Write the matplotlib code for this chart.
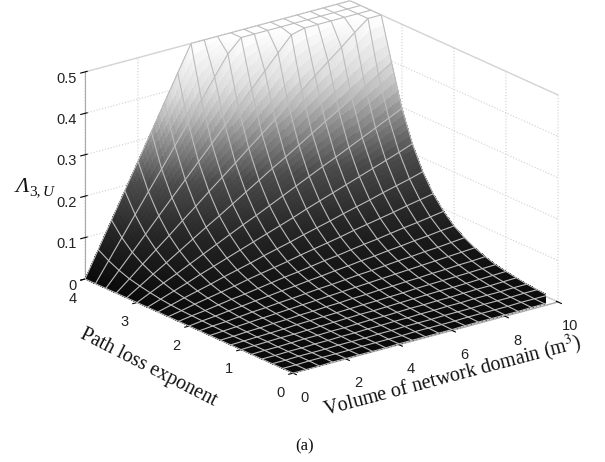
import numpy as np
import matplotlib
matplotlib.use('Agg')
import matplotlib.pyplot as plt
from matplotlib.colors import LinearSegmentedColormap
from mpl_toolkits.mplot3d import proj3d

volume = [0, .5, 1, 1.5, 2, 2.5, 3, 3.5, 4, 4.5, 5, 5.5, 6, 6.5, 7, 7.5, 8, 8.5, 9, 9.5, 10]
exponent = [0, .2, .4, .6, .8, 1, 1.2, 1.4, 1.6, 1.8, 2, 2.2, 2.4, 2.6, 2.8, 3, 3.2, 3.4, 3.6, 3.8, 4]
# rows run from exponent 0 to exponent 4, columns along volume
lambda_u = [
 [0,0,0,.001,.001,.001,.001,.001,.002,.002,.002,.002,.002,.003,.003,.003,.003,.003,.004,.004,.004],
 [0,0,.001,.001,.001,.001,.002,.002,.002,.002,.003,.003,.003,.003,.004,.004,.004,.004,.005,.005,.005],
 [0,0,.001,.001,.001,.002,.002,.002,.003,.003,.004,.004,.004,.005,.005,.005,.006,.006,.006,.007,.007],
 [0,0,.001,.001,.002,.002,.003,.003,.004,.004,.005,.005,.006,.006,.007,.007,.008,.008,.008,.009,.009],
 [0,.001,.001,.002,.003,.003,.004,.004,.005,.006,.006,.007,.008,.008,.009,.009,.010,.011,.011,.012,.013],
 [0,.001,.002,.003,.003,.004,.005,.006,.007,.008,.008,.009,.010,.011,.012,.013,.013,.014,.015,.016,.017],
 [0,.001,.002,.003,.004,.006,.007,.008,.009,.010,.011,.012,.013,.014,.016,.017,.018,.019,.020,.021,.022],
 [0,.001,.003,.004,.006,.007,.009,.010,.012,.013,.015,.016,.018,.019,.021,.022,.024,.025,.027,.028,.030],
 [0,.002,.004,.006,.008,.010,.012,.014,.016,.018,.020,.022,.024,.026,.028,.030,.032,.034,.036,.038,.040],
 [0,.003,.005,.008,.011,.013,.016,.018,.021,.024,.026,.029,.032,.034,.037,.040,.042,.045,.047,.050,.053],
 [0,.004,.007,.011,.014,.018,.021,.025,.028,.032,.035,.039,.042,.046,.049,.053,.056,.060,.063,.067,.070],
 [0,.005,.009,.014,.019,.023,.028,.033,.038,.042,.047,.052,.056,.061,.066,.070,.075,.080,.084,.089,.094],
 [0,.006,.013,.019,.025,.031,.038,.044,.050,.056,.063,.069,.075,.081,.088,.094,.100,.106,.113,.119,.125],
 [0,.008,.017,.025,.033,.042,.050,.058,.067,.075,.083,.092,.100,.108,.117,.125,.133,.142,.150,.158,.167],
 [0,.011,.022,.033,.045,.056,.067,.078,.089,.100,.111,.122,.134,.145,.156,.167,.178,.189,.200,.211,.223],
 [0,.015,.030,.044,.059,.074,.089,.104,.119,.133,.148,.163,.178,.193,.208,.222,.237,.252,.267,.282,.297],
 [0,.020,.040,.059,.079,.099,.119,.138,.158,.178,.198,.218,.237,.257,.277,.297,.316,.336,.356,.376,.396],
 [0,.026,.053,.079,.105,.132,.158,.185,.211,.237,.264,.290,.316,.343,.369,.396,.422,.448,.475,.5,.5],
 [0,.035,.070,.105,.141,.176,.211,.246,.281,.316,.352,.387,.422,.457,.492,.5,.5,.5,.5,.5,.5],
 [0,.047,.094,.141,.188,.234,.281,.328,.375,.422,.469,.5,.5,.5,.5,.5,.5,.5,.5,.5,.5],
 [0,.0625,.125,.1875,.25,.3125,.375,.4375,.5,.5,.5,.5,.5,.5,.5,.5,.5,.5,.5,.5,.5],
]
x_ticks = [0, 2, 4, 6, 8, 10]
y_ticks = [0, 1, 2, 3, 4]
z_ticks = [0, .1, .2, .3, .4, .5]
z_tick_labels = ['0', '0.1', '0.2', '0.3', '0.4', '0.5']

plt.rcParams['font.family'] = ['Liberation Sans', 'DejaVu Sans']
plt.rcParams['mathtext.fontset'] = 'stix'
W, H = 605, 462
fig = plt.figure(figsize=(W/100, H/100), dpi=100)
ax = fig.add_axes([0, 0, 1, 1], projection='3d', computed_zorder=False)
ax.set_proj_type('ortho')
ax.view_init(elev=20.4, azim=-127.6)
aspect = (334.6, 341, 221)
ax.set_box_aspect(aspect)
ax.set_xlim(0, 10, view_margin=0)
ax.set_ylim(0, 4, view_margin=0)
ax.set_zlim(0, .5, view_margin=0)

shade = LinearSegmentedColormap.from_list('shade', [
    (0, '#0a0a0a'), (.2, '#262626'), (.4, '#4b4b4b'), (.6, '#969696'), (.7, '#c0c0c0'),
    (.8, '#dedede'), (1, '#ffffff')])

X0, Y0 = np.meshgrid(volume, exponent)
Z0 = np.array(lambda_u)
# smooth (interpolated) shading of each mesh cell, as the reference has
sub = 5
xf = np.interp(np.linspace(0, 20, 20*sub+1), np.arange(21), volume)
yf = np.interp(np.linspace(0, 20, 20*sub+1), np.arange(21), exponent)
Zc = np.array([np.interp(xf, volume, r) for r in Z0])
Zf = np.array([np.interp(yf, exponent, c) for c in Zc.T]).T
Xf, Yf = np.meshgrid(xf, yf)
ax.plot_surface(Xf, Yf, Zf, rstride=1, cstride=1, cmap=shade, vmin=0, vmax=.5,
                linewidth=0, antialiased=False, shade=False, zorder=2)
ax.plot_wireframe(X0, Y0, Z0, rstride=1, cstride=1, color='#bcbcbc', linewidth=0.8, zorder=3)

for a in (ax.xaxis, ax.yaxis, ax.zaxis):
    a.set_pane_color((1, 1, 1, 1))
    a.pane.set_edgecolor('#d8d8d8')
    a.line.set_color('#a8a8a8')
    a._axinfo['grid'].update(color='#cfcfcf', linewidth=0.8, linestyle=':')
    a._axinfo['tick'].update(color='#a8a8a8', linewidth={True: 0.8, False: 0.5})
ax.set_xticks(x_ticks)
ax.set_yticks(y_ticks)
ax.set_zticks(z_ticks, z_tick_labels)
ax.zaxis.set_ticks_position('upper')
ax.tick_params(labelsize=10.5, labelcolor='#222222', pad=2)
ax.tick_params(axis='y', pad=0)
ax.tick_params(axis='z', pad=-5)
for t in ax.zaxis.get_ticklabels():
    t.set_va('top')
    t.set_ha('right')

def pix(x, y, z):
    u, v, _ = proj3d.proj_transform(x, y, z, ax.get_proj())
    return ax.transData.transform((u, v))

fig.canvas.draw()
a = pix(0, 4, 0); b = pix(10, 0, 0)
want = np.hypot(558-85, 302-279)
ax.set_box_aspect(aspect, zoom=want/np.hypot(*(b-a)))
fig.canvas.draw()
a = pix(0, 4, 0); b = pix(10, 0, 0)
mid = (a+b)/2
tx, ty = (85+558)/2, H-(279+302)/2
ax.set_position([(tx-mid[0])/W, (ty-mid[1])/H, 1, 1])

kw = dict(family='Liberation Serif', color='#111111')
fig.text(148/W, 1-368/H, 'Path loss exponent', rotation=-27, ha='center', va='center',
         rotation_mode='anchor', fontsize=14.5, **kw)
fig.text(452/W, 1-376/H, 'Volume of network domain (m$^{3}$)', rotation=14.8, ha='center', va='center',
         rotation_mode='anchor', fontsize=14.5, **kw)
fig.text(22/W, 1-187/H, '\u039b', ha='center', va='center', fontsize=16, style='italic', **kw)
fig.text(35/W, 1-192/H, '3,', ha='center', va='center', fontsize=11, **kw)
fig.text(48/W, 1-192/H, 'U', ha='center', va='center', fontsize=11, style='italic', **kw)
fig.text(305/W, 1-446/H, '(a)', ha='center', va='center', fontsize=12, **kw)
fig.savefig('out.png', dpi=100)
